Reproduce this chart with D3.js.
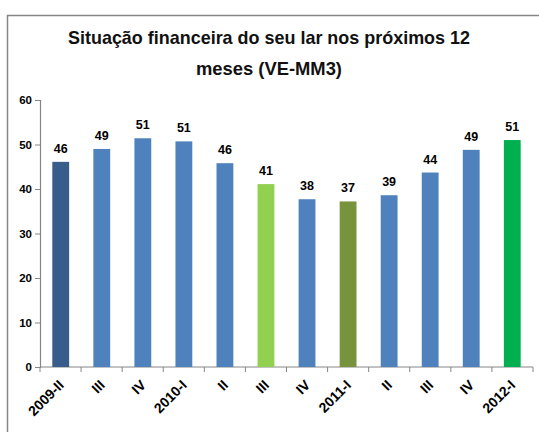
<!DOCTYPE html>
<html>
<head>
<meta charset="utf-8">
<script src="https://cdn.jsdelivr.net/npm/d3@7"></script>
<style>
  body { margin: 0; background: #fff; }
  svg text { font-family: "Liberation Sans", Arial, sans-serif; font-weight: bold; }
</style>
</head>
<body>
<div id="chart"></div>
<script>
// quarters and values
const quarters = ['2009-II', 'III', 'IV', '2010-I', 'II', 'III', 'IV', '2011-I', 'II', 'III', 'IV', '2012-I']
const values = [46.1, 49.0, 51.4, 50.7, 45.8, 41.1, 37.7, 37.2, 38.6, 43.7, 48.8, 51.0]
const barColors = ['#385d8a', '#4f81bd', '#4f81bd', '#4f81bd', '#4f81bd', '#92d050', '#4f81bd', '#77933c', '#4f81bd', '#4f81bd', '#4f81bd', '#00b050']
const yTicks = [0, 10, 20, 30, 40, 50, 60]
const titleLines = ['Situação financeira do seu lar nos próximos 12', 'meses (VE-MM3)']

const width = 539, height = 432
const margin = {left: 40, right: 6, top: 100, bottom: 65}

let svg = d3.select('#chart').append('svg')
    .attr('width', width)
    .attr('height', height)

// outer frame (cut by the picture on right and bottom)
svg.append('path')
    .attr('d', `M7.5,${height} L7.5,15.5 L${width},15.5`)
    .attr('fill', 'none')
    .attr('stroke', '#868686')
    .attr('stroke-width', 1.5)

// title
const titleLen = [402, 146]
svg.selectAll('.title')
    .data(titleLines)
    .enter().append('text')
    .attr('class', 'title')
    .attr('x', 269)
    .attr('y', (d, i) => 44 + i * 31)
    .attr('text-anchor', 'middle')
    .attr('font-size', 19)
    .attr('fill', '#111')
    .attr('textLength', (d, i) => titleLen[i])
    .attr('lengthAdjust', 'spacingAndGlyphs')
    .text(d => d)

// band scale on index, since quarter names repeat
let x = d3.scaleBand()
    .domain(d3.range(quarters.length))
    .range([margin.left, width - margin.right])
    .paddingInner(0.59)
    .paddingOuter(0.3)

let y = d3.scaleLinear()
    .domain([0, 60])
    .range([height - margin.bottom, margin.top])

// y axis
let yAxis = svg.append('g')
    .attr('transform', `translate(${margin.left},0)`)
    .call(d3.axisLeft(y).tickValues(yTicks).tickSize(5).tickPadding(3))
yAxis.select('.domain').attr('stroke', '#868686').attr('stroke-width', 1.2)
yAxis.selectAll('.tick line').attr('stroke', '#868686')
yAxis.selectAll('.tick text').attr('font-size', 11.5).attr('fill', '#000')

// x axis: ticks on band edges, labels rotated
let xAxisG = svg.append('g')
    .attr('transform', `translate(0,${y(0)})`)
xAxisG.append('line')
    .attr('x1', margin.left).attr('x2', width - margin.right)
    .attr('stroke', '#868686').attr('stroke-width', 1.2)
let edges = d3.range(quarters.length + 1).map(i => margin.left + i * (width - margin.right - margin.left) / quarters.length)
xAxisG.selectAll('.xtick')
    .data(edges)
    .enter().append('line')
    .attr('x1', d => d).attr('x2', d => d)
    .attr('y1', 0).attr('y2', 5)
    .attr('stroke', '#868686')

xAxisG.selectAll('.xlabel')
    .data(quarters)
    .enter().append('text')
    .attr('text-anchor', 'end')
    .attr('font-size', 14)
    .attr('fill', '#000')
    .attr('transform', (d, i) => `translate(${x(i) + x.bandwidth() / 2 + 4},${19}) rotate(-45)`)
    .text(d => d)

// bars
svg.selectAll('.bar')
    .data(values)
    .enter().append('rect')
    .attr('class', 'bar')
    .attr('x', (d, i) => x(i))
    .attr('y', d => y(d))
    .attr('width', x.bandwidth())
    .attr('height', d => y(0) - y(d))
    .attr('fill', (d, i) => barColors[i])

// value labels
svg.selectAll('.label')
    .data(values)
    .enter().append('text')
    .attr('class', 'label')
    .attr('x', (d, i) => x(i) + x.bandwidth() / 2)
    .attr('y', d => y(d) - 9)
    .attr('text-anchor', 'middle')
    .attr('font-size', 12.5)
    .attr('fill', '#000')
    .text(d => Math.round(d))
</script>
</body>
</html>
